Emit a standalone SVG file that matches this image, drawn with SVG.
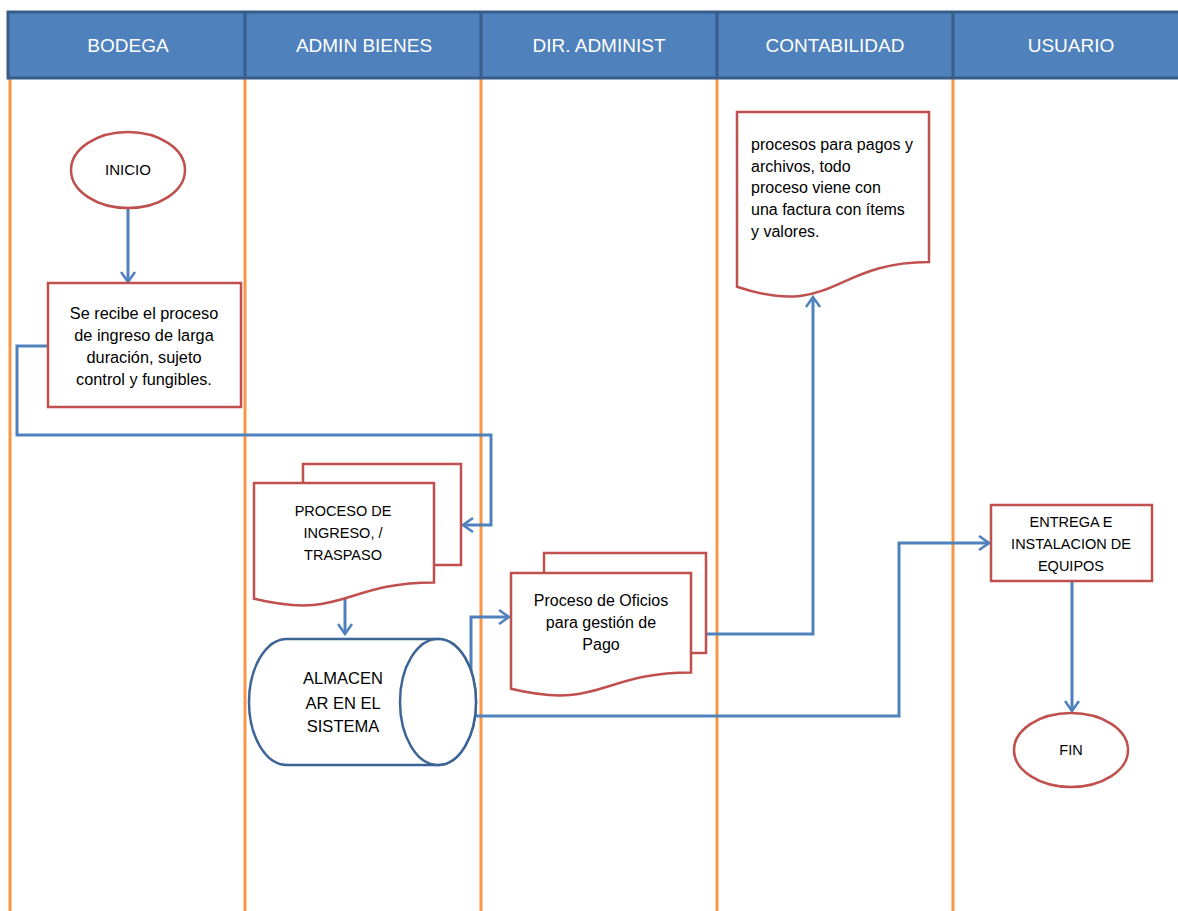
<svg xmlns="http://www.w3.org/2000/svg" width="1178" height="911" viewBox="0 0 1178 911">
<style>
.lane{stroke:#f79646;stroke-width:3;fill:none}
.hdr{fill:#4f81bd;stroke:#385d8a;stroke-width:3}
.hdiv{stroke:#385d8a;stroke-width:3}
.ht{font-family:"Liberation Sans",Arial,sans-serif;font-size:19px;fill:#ffffff;text-anchor:middle}
.red{fill:#ffffff;stroke:#c0504d;stroke-width:2.5}
.cyl{fill:#ffffff;stroke:#3c6496;stroke-width:2.5}
.t{font-family:"Liberation Sans",Arial,sans-serif;fill:#000000;text-anchor:middle}
.tl{font-family:"Liberation Sans",Arial,sans-serif;fill:#000000;text-anchor:start}
.c{fill:none;stroke:#4f81bd;stroke-width:3;marker-end:url(#arr)}
</style>
<defs>
<marker id="arr" markerUnits="userSpaceOnUse" viewBox="0 0 14 16" markerWidth="14" markerHeight="16" refX="12" refY="8" orient="auto">
<path d="M2,1 L12,8 L2,15" fill="none" stroke="#4f81bd" stroke-width="2.5"/>
</marker>
</defs>
<rect width="1178" height="911" fill="#ffffff"/>
<g id="lanes">
<line class="lane" x1="10" y1="79" x2="10" y2="911"/>
<line class="lane" x1="245" y1="79" x2="245" y2="911"/>
<line class="lane" x1="481" y1="79" x2="481" y2="911"/>
<line class="lane" x1="717" y1="79" x2="717" y2="911"/>
<line class="lane" x1="953" y1="79" x2="953" y2="911"/>
</g>
<g id="header">
<rect class="hdr" x="8" y="12" width="1185" height="66"/>
<line class="hdiv" x1="245" y1="12" x2="245" y2="78"/>
<line class="hdiv" x1="481" y1="12" x2="481" y2="78"/>
<line class="hdiv" x1="717" y1="12" x2="717" y2="78"/>
<line class="hdiv" x1="953" y1="12" x2="953" y2="78"/>
<text class="ht" x="128" y="52">BODEGA</text>
<text class="ht" x="364" y="52">ADMIN BIENES</text>
<text class="ht" x="599" y="52">DIR. ADMINIST</text>
<text class="ht" x="835" y="52">CONTABILIDAD</text>
<text class="ht" x="1071" y="52">USUARIO</text>
</g>
<g id="connectors">
<path class="c" d="M128,208 V282"/>
<path class="c" d="M48,346 H17 V435 H491 V525 H463"/>
<path class="c" d="M345,598 V634"/>
<path class="c" d="M432,685 H471 V617 H509"/>
<path class="c" d="M476,716 H899 V543 H989"/>
<path class="c" d="M706,634 H813 V297"/>
<path class="c" d="M1072,581 V711"/>
</g>
<g id="inicio">
<ellipse class="red" cx="128" cy="170" rx="57" ry="38"/>
<text class="t" x="128" y="175" font-size="15">INICIO</text>
</g>
<g id="recibe">
<rect class="red" x="48" y="283" width="193" height="124"/>
<text class="t" font-size="16.3" x="144" y="319">Se recibe el proceso</text>
<text class="t" font-size="16.3" x="144" y="341">de ingreso de larga</text>
<text class="t" font-size="16.3" x="144" y="363">duración, sujeto</text>
<text class="t" font-size="16.3" x="144" y="385">control y fungibles.</text>
</g>
<g id="proceso-ingreso">
<rect class="red" x="303" y="464" width="158" height="101"/>
<path class="red" d="M254,483 H434 V582.4 C344,582.4 344,620.4 254,598.8 Z"/>
<text class="t" font-size="14.5" x="343" y="516">PROCESO DE</text>
<text class="t" font-size="14.5" x="343" y="538">INGRESO, /</text>
<text class="t" font-size="14.5" x="343" y="560">TRASPASO</text>
</g>
<g id="almacenar">
<path class="cyl" d="M287,639 H438 A38,63 0 0 1 438,765 H287 A38,63 0 0 1 287,639 Z"/>
<ellipse class="cyl" cx="438" cy="702" rx="38" ry="63"/>
<text class="t" font-size="16.5" x="343" y="684">ALMACEN</text>
<text class="t" font-size="16.5" x="343" y="709">AR EN EL</text>
<text class="t" font-size="16.5" x="343" y="732">SISTEMA</text>
</g>
<g id="oficios">
<rect class="red" x="544" y="553" width="162" height="100"/>
<path class="red" d="M511,573 H691 V672.4 C601,672.4 601,710.4 511,688.8 Z"/>
<text class="t" font-size="16" x="601" y="606">Proceso de Oficios</text>
<text class="t" font-size="16" x="601" y="628">para gestión de</text>
<text class="t" font-size="16" x="601" y="650">Pago</text>
</g>
<g id="contabilidad-doc">
<path class="red" d="M737,112 H929 V262 C833,262 833,319 737,286.7 Z"/>
<text class="tl" font-size="16" x="751" y="150">procesos para pagos y</text>
<text class="tl" font-size="16" x="751" y="172">archivos, todo</text>
<text class="tl" font-size="16" x="751" y="193">proceso viene con</text>
<text class="tl" font-size="16" x="751" y="215">una factura con ítems</text>
<text class="tl" font-size="16" x="751" y="237">y valores.</text>
</g>
<g id="entrega">
<rect class="red" x="991" y="505" width="161" height="76"/>
<text class="t" font-size="14.5" x="1071" y="527">ENTREGA E</text>
<text class="t" font-size="14.5" x="1071" y="549">INSTALACION DE</text>
<text class="t" font-size="14.5" x="1071" y="571">EQUIPOS</text>
</g>
<g id="fin">
<ellipse class="red" cx="1071" cy="750" rx="57" ry="37"/>
<text class="t" font-size="14.5" x="1071" y="755">FIN</text>
</g>
</svg>
